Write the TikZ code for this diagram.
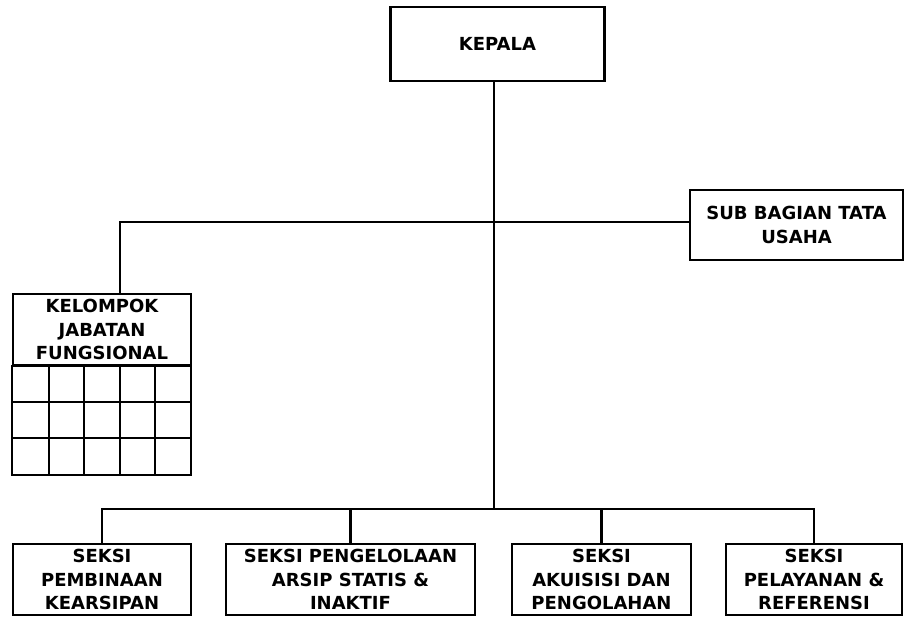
\documentclass[tikz,border=0pt]{standalone}
\usepackage{fontspec}
\setmainfont{DejaVu Sans}
\tikzset{
    unit/.style={draw, line width=1.6pt, align=center, inner sep=0pt,
        font=\bfseries\fontsize{13.5}{17.5}\selectfont},
    link/.style={line width=1.6pt}
}
\begin{document}
\begin{tikzpicture}[x=0.75pt, y=-0.75pt]
                \useasboundingbox (0,0) rectangle (904,620);
                \node[unit, minimum width=214*0.75pt, minimum height=74*0.75pt] (kepala) at (497.5,44) {KEPALA};
                \node[unit, minimum width=213*0.75pt, minimum height=70*0.75pt] (tu) at (796.5,225) {SUB BAGIAN TATA\\USAHA};
                \node[unit, minimum width=178*0.75pt, minimum height=71*0.75pt] (kjf) at (102,329.5) {KELOMPOK\\JABATAN\\FUNGSIONAL};
                \node[unit, minimum width=178*0.75pt, minimum height=71*0.75pt] (s1) at (102,579.5) {SEKSI\\PEMBINAAN\\KEARSIPAN};
                \node[unit, minimum width=249*0.75pt, minimum height=71*0.75pt] (s2) at (350.5,579.5) {SEKSI PENGELOLAAN\\ARSIP STATIS \&\\INAKTIF};
                \node[unit, minimum width=179*0.75pt, minimum height=71*0.75pt] (s3) at (601.5,579.5) {SEKSI\\AKUISISI DAN\\PENGOLAHAN};
                \node[unit, minimum width=176*0.75pt, minimum height=71*0.75pt] (s4) at (814,579.5) {SEKSI\\PELAYANAN \&\\REFERENSI};

                \draw[link] (kjf.south west) rectangle (191,475);
                \foreach \i in {1, 2, 3, 4}
                \draw[link] (13+\i*35.6,365) -- (13+\i*35.6,475);
                \foreach \j in {1, 2}
                \draw[link] (13,365+\j*36.7) -- (191,365+\j*36.7);

                \coordinate (up) at (120,222);
                \coordinate (lo) at (494,509);
                \draw[link] (kepala.south -| lo) -- (lo);
                \draw[link] (up |- kjf.north) -- (up) -- (up -| tu.west);
                \draw[link] (s1.north) |- (lo) -| (s4.north);
                \foreach \s in {s2, s3}
                \draw[link] (\s.north) -- (\s.north |- lo);
            \end{tikzpicture}
\end{document}
